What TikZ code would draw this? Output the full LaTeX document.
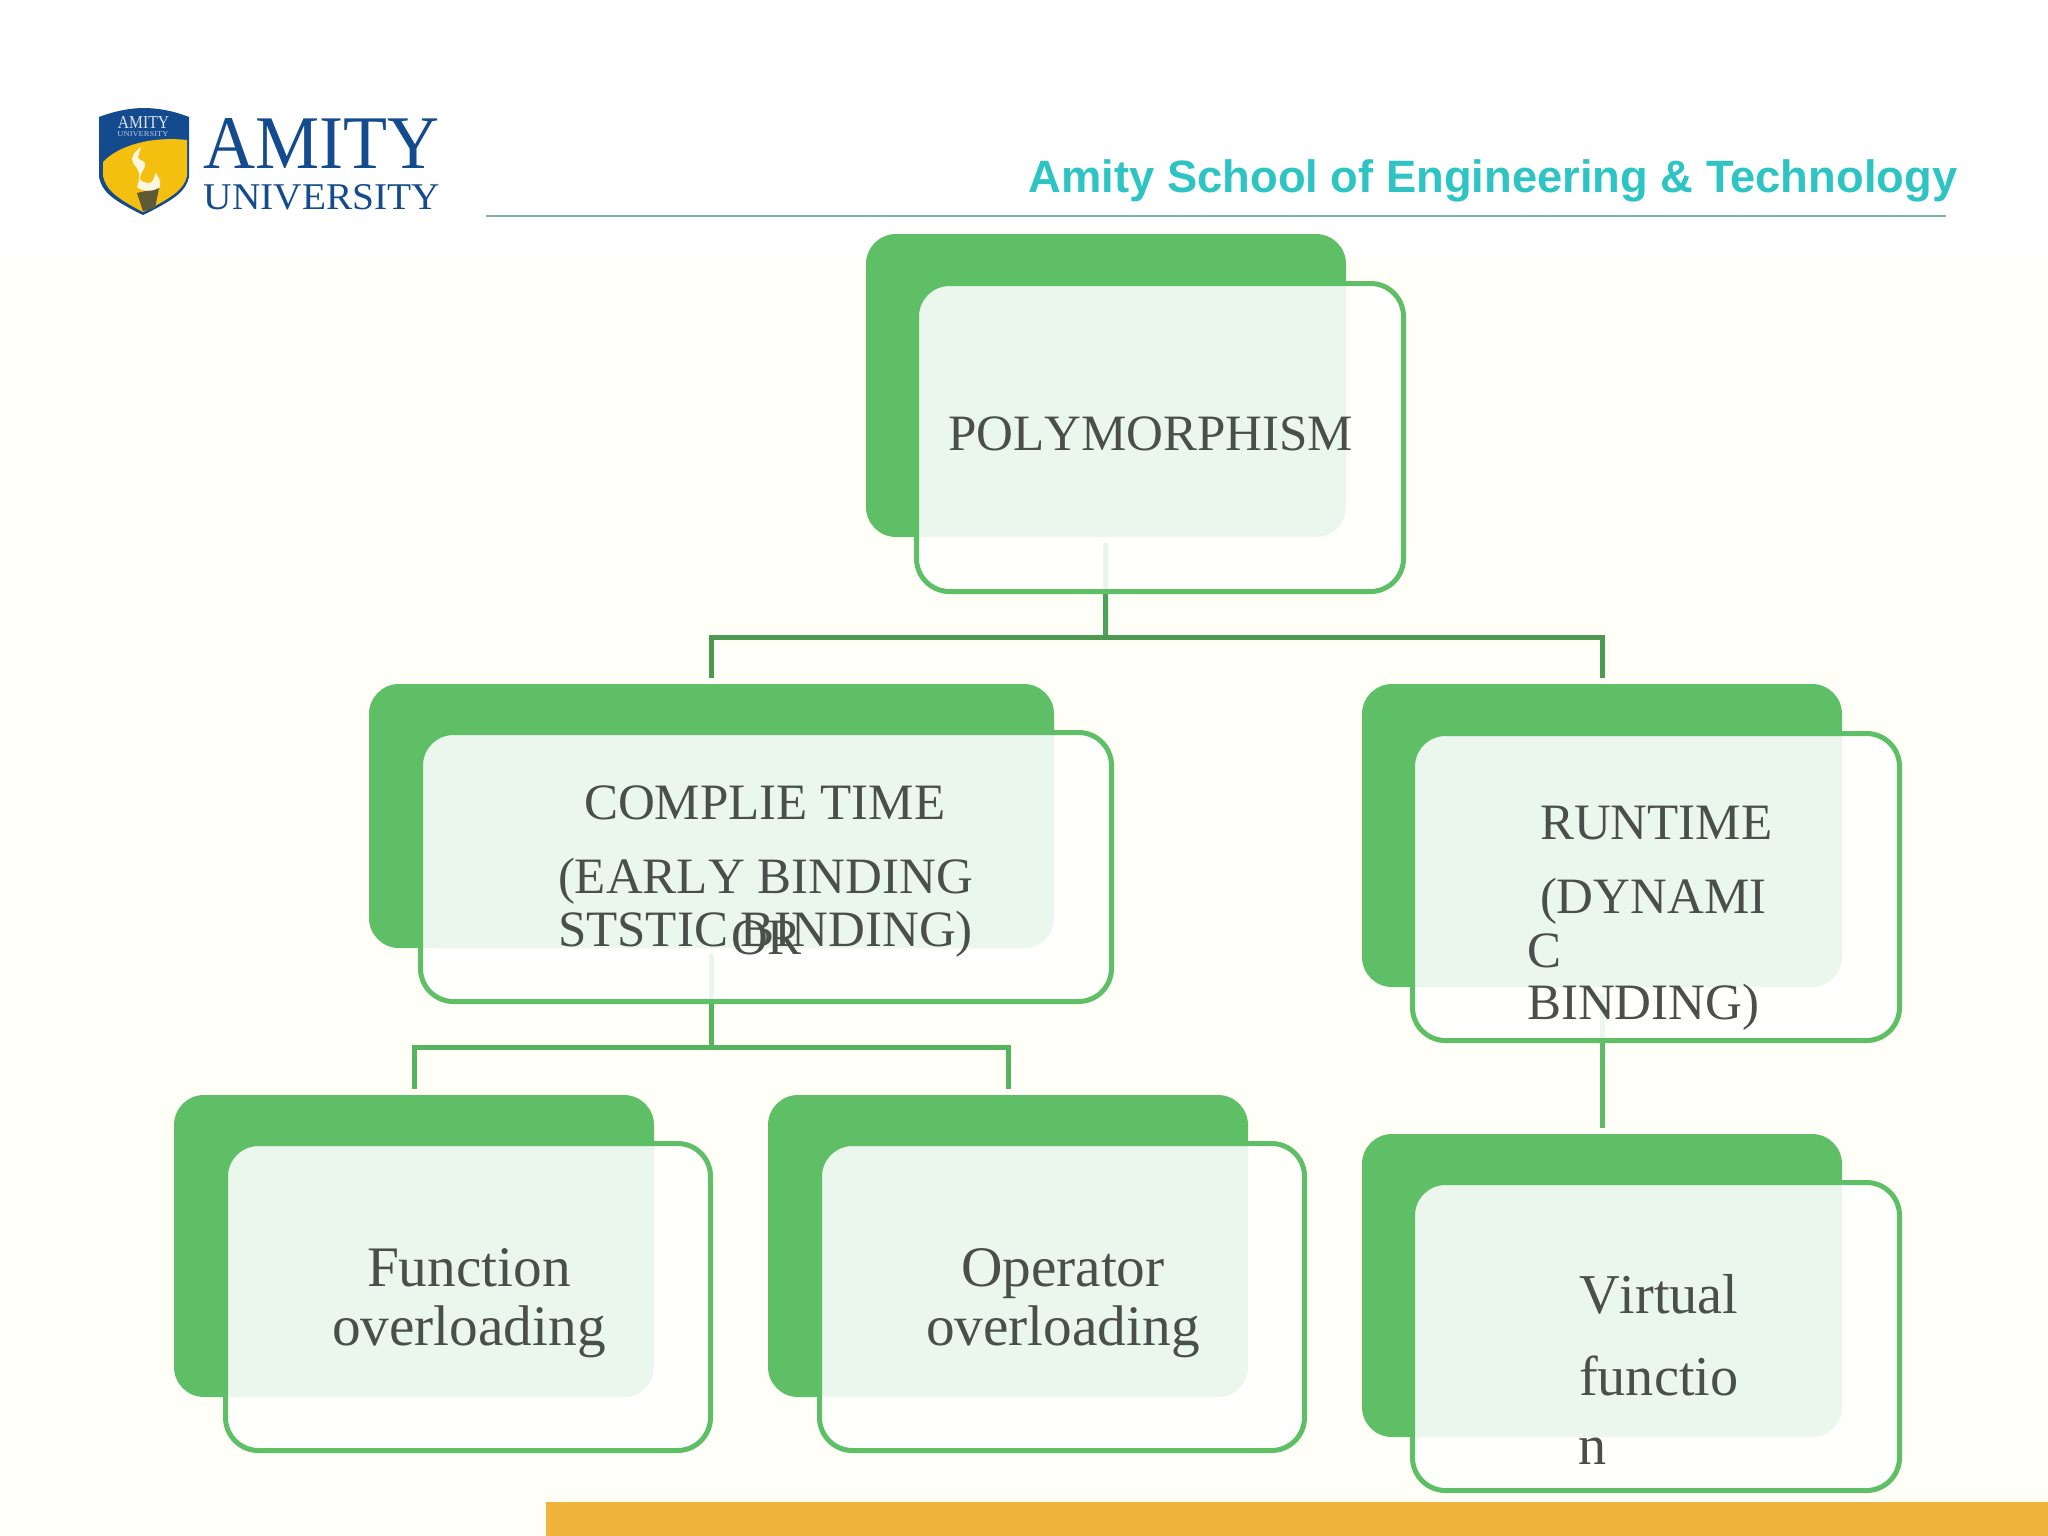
\documentclass[tikz,border=0pt]{standalone}
\usepackage{fontspec}
\setmainfont[Kerning=Off]{Liberation Serif}
\newfontfamily\sansbold{Liberation Sans}
\newfontfamily\logoserif{Liberation Serif}
\definecolor{cream}{HTML}{FFFFF7}
\definecolor{gbox}{HTML}{5FBF67}
\definecolor{connA}{HTML}{4C9A52}
\definecolor{connB}{HTML}{4CA358}
\definecolor{connC}{HTML}{56B35E}
\definecolor{connD}{HTML}{5CBB64}
\definecolor{txtc}{HTML}{4A4F4A}
\definecolor{teal}{HTML}{2EC4C4}
\definecolor{rulec}{HTML}{7FAFB0}
\definecolor{barc}{HTML}{F0B43C}
\definecolor{navy}{HTML}{134B8E}
\definecolor{shieldy}{HTML}{F5BF0F}
\definecolor{flame}{HTML}{FBF6E0}
\definecolor{torch}{HTML}{5E5A35}
\tikzset{
  backbox/.style={rectangle,fill=gbox,rounded corners=0.30cm,inner sep=0pt,outer sep=0pt},
  frontbox/.style={rectangle,draw=gbox,line width=0.05cm,fill=white,fill opacity=0.88,draw opacity=1,rounded corners=0.33cm,inner sep=0pt,outer sep=0pt},
  conn/.style={line width=0.05cm,miter limit=10},
  lab/.style={anchor=base west,inner sep=0pt,outer sep=0pt,text=txtc},
  sz50/.style={font=\fontsize{14.5}{17}\selectfont},
  sz57/.style={font=\fontsize{16.3}{19}\selectfont},
  sz56/.style={font=\fontsize{16.0}{19}\selectfont}
}
\newcommand\bbox[5]{\node[backbox,minimum width={(#4-#2)*0.01cm},minimum height={(#5-#3)*0.01cm}] (#1) at ({(#2+#4)/2},{(#3+#5)/2}) {};}
\newcommand\frbox[5]{\node[frontbox,minimum width={(#4-#2-5)*0.01cm},minimum height={(#5-#3-5)*0.01cm}] (#1) at ({(#2+#4)/2},{(#3+#5)/2}) {};}
\begin{document}
\begin{tikzpicture}[x=0.01cm,y=-0.01cm]
\useasboundingbox (0,0) rectangle (2048,1536);
\fill[white] (0,0) rectangle (2048,1536);
\fill[cream] (0,256) rectangle (2048,1536);
\fill[barc] (546,1502) rectangle (2048,1536);

% logo
\fill[navy] (99,117) .. controls (115,111) and (130,108) .. (144,108) .. controls (158,108) and (174,111) .. (189,117) -- (189,177) .. controls (186,190) and (178,198) .. (143,215) .. controls (108,198) and (102,190) .. (99,177) -- cycle;
\fill[shieldy] (103,162) .. controls (118,146) and (150,136) .. (187,140) -- (187,176) .. controls (184,188) and (176,196) .. (143,212) .. controls (112,196) and (106,188) .. (103,176) -- cycle;
\fill[torch] (137,193) -- (159,188) -- (155,208) -- (143,211) -- cycle;
\fill[flame] (141,147) .. controls (134,152) and (130,158) .. (133,163) .. controls (138,170) and (142,172) .. (137,187) .. controls (142,192) and (154,192) .. (160,187) .. controls (161,180) and (158,175) .. (155,173) .. controls (155,178) and (152,184) .. (148,183) .. controls (142,182) and (139,180) .. (140,177) .. controls (142,170) and (146,168) .. (145,163) .. controls (143,160) and (138,160) .. (138,157) -- cycle;
\node[anchor=base,inner sep=0pt,text=white!85!navy,font=\logoserif] (shieldA) at (143.5,128) {\resizebox{0.51cm}{0.12cm}{AMITY}};
\node[anchor=base,inner sep=0pt,text=white!70!navy,font=\logoserif] (shieldB) at (143,136) {\resizebox{0.51cm}{0.05cm}{UNIVERSITY}};
\node[anchor=base west,inner sep=0pt,text=navy,font=\logoserif] (logoA) at (203,168) {\resizebox{2.36cm}{0.5cm}{AMITY}};
\node[anchor=base west,inner sep=0pt,text=navy,font=\logoserif] (logoB) at (203,209) {\resizebox{2.36cm}{0.25cm}{UNIVERSITY}};

% header
\node[anchor=base west,inner sep=0pt,text=teal,font=\sansbold\bfseries\fontsize{12.89}{15}\selectfont] (title) at (1028,192) {Amity School of Engineering \& Technology};
\draw[rulec,line width=0.02cm] (486,215.5) -- (1946,215.5);

% back boxes
\bbox{pb}{866}{234}{1346}{537}
\bbox{cb}{369}{684}{1054}{948}
\bbox{rb}{1362}{684}{1842}{987}
\bbox{fb}{174}{1095}{654}{1397}
\bbox{ob}{768}{1095}{1248}{1397}
\bbox{vb}{1362}{1134}{1842}{1437}

% connectors
\coordinate (j1) at (1105.5,637);
\coordinate (j2) at (711.5,1047);
\draw[conn,connB] ([yshift=-0.06cm]pb.south) -- (j1);
\draw[conn,connA] ([yshift=0.06cm]cb.north) |- (j1) -| ([yshift=0.06cm]rb.north);
\draw[conn,connC] ([yshift=-0.06cm]cb.south) -- (j2);
\draw[conn,connC] ([yshift=0.06cm]fb.north) |- (j2) -| ([yshift=0.06cm]ob.north);
\draw[conn,connD] ([yshift=-0.06cm]rb.south) -- ([yshift=0.06cm]vb.north);

% front boxes
\frbox{pf}{914}{281}{1406}{594}
\frbox{cf}{418}{730}{1114}{1004}
\frbox{rf}{1410}{731}{1902}{1043}
\frbox{ff}{223}{1141}{713}{1453}
\frbox{of}{817}{1141}{1307}{1453}
\frbox{vf}{1410}{1180}{1902}{1493}

% text
\node[lab,sz50] (t1) at (948,450) {POLYMORPHISM};
\node[lab,sz50] (t2) at (584,819) {COMPLIE TIME};
\node[lab,sz50] (t3) at (558,893) {(EARLY BINDING};
\node[lab,sz50] (t4) at (558,946) {STSTIC BINDING)};
\node[lab,sz50] (t5) at (731,954) {OR};
\node[lab,sz50] (t6) at (1540,839) {RUNTIME};
\node[lab,sz50] (t7) at (1540,913) {(DYNAMI};
\node[lab,sz50] (t8) at (1527,967) {C};
\node[lab,sz50] (t9) at (1527,1019) {BINDING)};
\node[lab,sz57] (t10) at (367,1286) {Function};
\node[lab,sz57] (t11) at (332,1345) {overloading};
\node[lab,sz57] (t12) at (961,1286) {Operator};
\node[lab,sz57] (t13) at (926,1345) {overloading};
\node[lab,sz56] (t14) at (1579,1313) {Virtual};
\node[lab,sz56] (t15) at (1579,1395) {functio};
\node[lab,sz56] (t16) at (1578,1464) {n};
\end{tikzpicture}
\end{document}
